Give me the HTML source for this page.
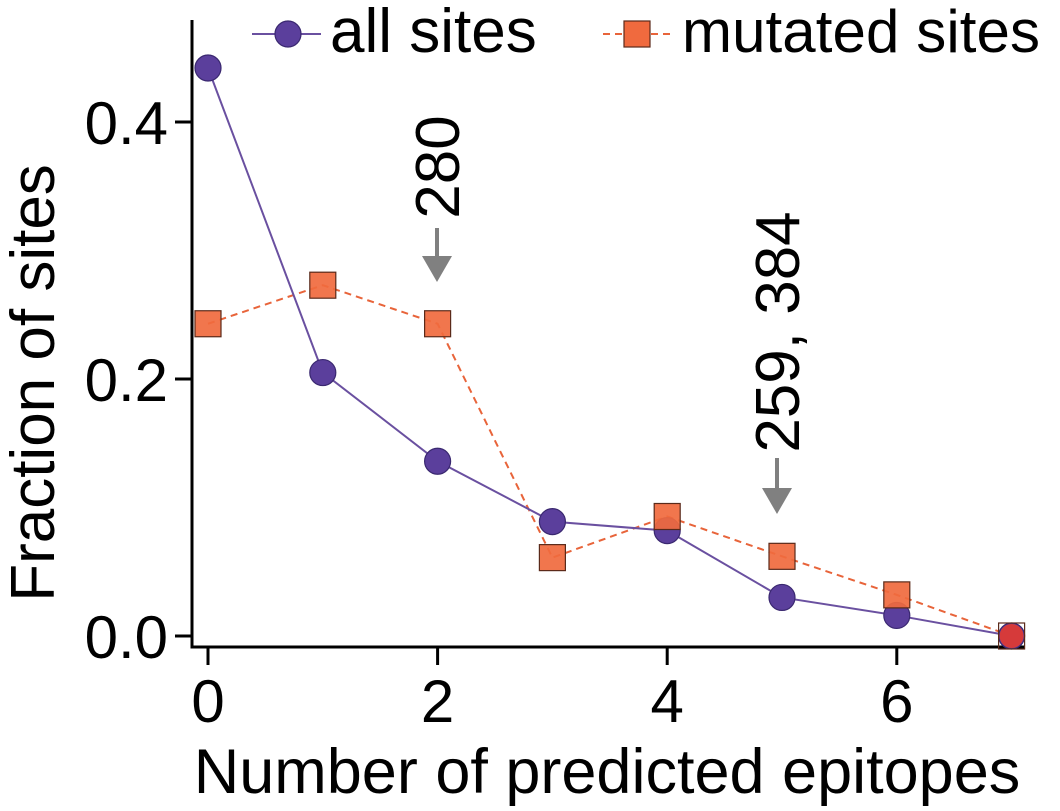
<!DOCTYPE html>
<html><head><meta charset="utf-8"><style>
body{margin:0;background:#fff}
svg{display:block;font-family:"Liberation Sans",Arial,sans-serif}
</style></head><body>
<svg id="chart" width="1060" height="811" viewBox="0 0 1060 811" xmlns="http://www.w3.org/2000/svg">
<g id="plot"></g>
</svg>
<script>
const categories=[0,1,2,3,4,5,6,7];
const allSites=[0.442,0.205,0.136,0.089,0.082,0.030,0.016,0.0];
const mutatedSites=[0.243,0.273,0.243,0.061,0.093,0.062,0.032,0.0];
const xTicks=[0,2,4,6];
const yTicks=[0.0,0.2,0.4];
const yTickLabels=["0.0","0.2","0.4"];

const NS="http://www.w3.org/2000/svg";
const g=document.getElementById('plot');
const xs=v=>208+v*114.8;
const ys=v=>636-v*1285;
function mk(tag,attrs,parent){const e=document.createElementNS(NS,tag);for(const k in attrs)e.setAttribute(k,attrs[k]);(parent||g).appendChild(e);return e;}

let e=mk('line',{x1:192,y1:20,x2:192,y2:648,stroke:'#000','stroke-width':3});


e=mk('line',{x1:190.5,y1:647,x2:1025,y2:647,stroke:'#000','stroke-width':3});


xTicks.forEach(t=>{
  let l=mk('line',{x1:xs(t),y1:648,x2:xs(t),y2:665,stroke:'#000','stroke-width':3});
  
  
  let tx=mk('text',{x:xs(t),y:722,'font-size':60,'text-anchor':'middle'});
  tx.textContent=t;
  
  
});
yTicks.forEach((t,i)=>{
  let l=mk('line',{x1:175,y1:ys(t),x2:192,y2:ys(t),stroke:'#000','stroke-width':3});
  
  
  let tx=mk('text',{x:168,y:ys(t)+22,'font-size':60,'text-anchor':'end'});
  tx.textContent=yTickLabels[i];
  
  
});
e=mk('text',{x:0,y:0,'font-size':62,'text-anchor':'middle',transform:'translate(54,383) rotate(-90)'});
e.textContent='Fraction of sites';


e=mk('text',{x:607,y:793,'font-size':63,'text-anchor':'middle'});
e.textContent='Number of predicted epitopes';



e=mk('polyline',{points:categories.map((c,i)=>xs(c)+','+ys(mutatedSites[i])).join(' '),fill:'none',stroke:'#e8643a','stroke-width':2,'stroke-dasharray':'7,5'});


e=mk('polyline',{points:categories.map((c,i)=>xs(c)+','+ys(allSites[i])).join(' '),fill:'none',stroke:'#6a50a0','stroke-width':2});


categories.forEach((c,i)=>{
  let p=mk('circle',{cx:xs(c),cy:ys(allSites[i]),r:13,fill:'#5b3f9c',stroke:'#3a2870','stroke-width':1.2});
  
  
});
categories.forEach((c,i)=>{
  const same=Math.abs(mutatedSites[i]-allSites[i])<0.004;
  let r=mk('rect',{x:xs(c)-13,y:ys(mutatedSites[i])-13,width:26,height:26,fill:'#f06a3e','fill-opacity':same?0:0.92,stroke:'#5a2a1a','stroke-width':1.2});
  
  
  if(same){
    let o=mk('circle',{cx:xs(c),cy:ys(allSites[i]),r:12,fill:'#d63a3a'});
    
    
  }
});

function ann(x,label,cy,ay1,ay2,name){
  let t=mk('text',{x:0,y:0,'font-size':62,'text-anchor':'middle',transform:`translate(${x+22},${cy}) rotate(-90)`});
  t.textContent=label;
  
  
  let l=mk('line',{x1:x,y1:ay1,x2:x,y2:ay2-20,stroke:'#808080','stroke-width':4});
  
  
  let h=mk('polygon',{points:`${x-15},${ay2-26} ${x+15},${ay2-26} ${x},${ay2}`,fill:'#808080'});
  
  
}
ann(437,'280',167,228,282,'annotation-280');
ann(777,'259, 384',332,458,514,'annotation-259-384');

const lg=mk('g',{});


mk('line',{x1:252,y1:34,x2:321,y2:34,stroke:'#6a50a0','stroke-width':2},lg);
mk('circle',{cx:288,cy:34,r:13,fill:'#5b3f9c',stroke:'#3a2870','stroke-width':1.2},lg);
let t1=mk('text',{x:330,y:52,'font-size':62},lg);t1.textContent='all sites';


mk('line',{x1:603,y1:34,x2:672,y2:34,stroke:'#e8643a','stroke-width':2,'stroke-dasharray':'7,5'},lg);
mk('rect',{x:624,y:21,width:26,height:26,fill:'#f06a3e',stroke:'#5a2a1a','stroke-width':1.2},lg);
let t2=mk('text',{x:682,y:52,'font-size':60,textLength:358},lg);t2.textContent='mutated sites';


</script>
</body></html>
